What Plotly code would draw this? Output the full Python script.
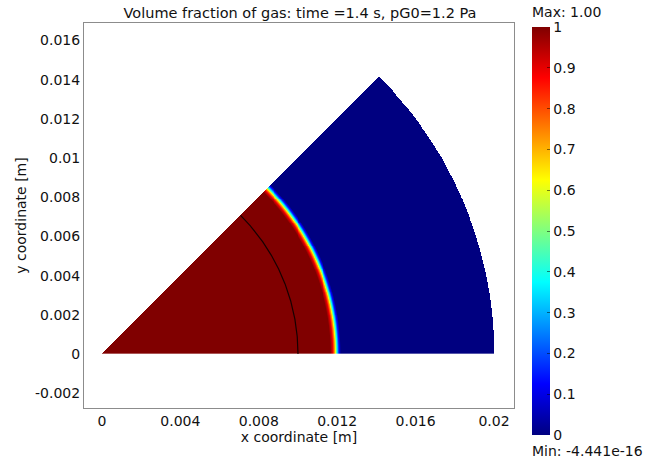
import numpy as np
import plotly.graph_objects as go

# ---- data ----
R_DOMAIN = 0.02          # outer radius of sector [m]
SECTOR_ANGLE_DEG = 45.0  # sector opening angle
INNER_ARC_R = 0.01       # internal boundary arc radius [m]
# radial profile of gas volume fraction
profile_r = [0.0, 0.01165, 0.01177, 0.01188, 0.01198, 0.01208, 0.01218, 0.02]
profile_alpha = [1.0, 1.0, 0.9, 0.7, 0.4, 0.15, 0.0, 0.0]

x_ticks = [0, 0.004, 0.008, 0.012, 0.016, 0.02]
x_ticklabels = ["0", "0.004", "0.008", "0.012", "0.016", "0.02"]
y_ticks = [-0.002, 0, 0.002, 0.004, 0.006, 0.008, 0.01, 0.012, 0.014, 0.016]
y_ticklabels = ["-0.002", "0", "0.002", "0.004", "0.006", "0.008", "0.01", "0.012", "0.014", "0.016"]
cb_ticks = [0, 0.1, 0.2, 0.3, 0.4, 0.5, 0.6, 0.7, 0.8, 0.9, 1]
cb_ticklabels = ["0", "0.1", "0.2", "0.3", "0.4", "0.5", "0.6", "0.7", "0.8", "0.9", "1"]
title_text = "Volume fraction of gas: time =1.4 s, pG0=1.2 Pa"
max_text = "Max: 1.00"
min_text = "Min: -4.441e-16"

# ---- field on a grid ----
d = 2.5e-5
ymax = R_DOMAIN * np.sin(np.radians(SECTOR_ANGLE_DEG))
xs = np.arange(d / 2, R_DOMAIN, d)
ys = np.arange(d / 2, ymax, d)
X, Y = np.meshgrid(xs, ys)
R = np.hypot(X, Y)
TH = np.degrees(np.arctan2(Y, X))
Z = np.interp(R, profile_r, profile_alpha)
Z[(R > R_DOMAIN) | (TH > SECTOR_ANGLE_DEG)] = np.nan
Z = Z.astype(np.float32)

jet = [
    [0.0, "rgb(0,0,128)"],
    [0.125, "rgb(0,0,255)"],
    [0.375, "rgb(0,255,255)"],
    [0.625, "rgb(255,255,0)"],
    [0.875, "rgb(255,0,0)"],
    [1.0, "rgb(128,0,0)"],
]

FONT = "DejaVu Sans"
FS = 14
TXT = "#111"

fig = go.Figure()
fig.add_trace(go.Heatmap(
    x=xs, y=ys, z=Z, zmin=0, zmax=1, colorscale=jet,
    hoverongaps=False,
    colorbar=dict(
        x=(532 - 84) / 430, xanchor="left",
        y=(408 - 27) / 385, yanchor="top",
        len=408, lenmode="pixels",
        thickness=18, thicknessmode="pixels",
        outlinewidth=0, xpad=0, ypad=0,
        tickvals=cb_ticks, ticktext=cb_ticklabels,
        ticks="inside", ticklen=3, tickcolor="rgba(0,0,0,0.5)",
        tickfont=dict(family=FONT, size=FS, color=TXT),
    ),
))

# internal boundary arc
th = np.radians(np.linspace(0, SECTOR_ANGLE_DEG, 200))
fig.add_trace(go.Scatter(
    x=INNER_ARC_R * np.cos(th), y=INNER_ARC_R * np.sin(th),
    mode="lines", line=dict(color="rgba(10,0,0,0.9)", width=1.2),
    hoverinfo="skip", showlegend=False,
))

x0_px, y0_px, scale = 102, 354, 19600.0
fig.update_xaxes(
    range=[(84 - x0_px) / scale, (514 - x0_px) / scale],
    tickvals=x_ticks, ticktext=x_ticklabels,
    showgrid=False, zeroline=False, ticks="",
    showline=True, mirror=True, linecolor="#8c8c8c", linewidth=1,
    tickfont=dict(family=FONT, size=FS, color=TXT),
    title=dict(text="x coordinate [m]", font=dict(family=FONT, size=FS, color=TXT), standoff=3),
)
fig.update_yaxes(
    range=[(y0_px - 408) / scale, (y0_px - 23) / scale],
    tickvals=y_ticks, ticktext=y_ticklabels,
    showgrid=False, zeroline=False, ticks="",
    showline=True, mirror=True, linecolor="#8c8c8c", linewidth=1,
    tickfont=dict(family=FONT, size=FS, color=TXT),
    title=dict(text="y coordinate [m]", font=dict(family=FONT, size=FS, color=TXT), standoff=5),
)

fig.update_layout(
    width=671, height=460,
    margin=dict(l=84, r=157, t=23, b=52),
    paper_bgcolor="white", plot_bgcolor="white",
    showlegend=False,
    title=dict(text=title_text, x=300 / 671, xanchor="center", y=1 - 13 / 460, yanchor="middle",
               font=dict(family=FONT, size=14.5, color=TXT)),
    annotations=[
        dict(text=max_text, xref="paper", yref="paper", x=(530 - 84) / 430, y=(408 - 12) / 385,
             xanchor="left", yanchor="middle", showarrow=False,
             font=dict(family=FONT, size=FS, color=TXT)),
        dict(text=min_text, xref="paper", yref="paper", x=(530 - 84) / 430, y=(408 - 451) / 385,
             xanchor="left", yanchor="middle", showarrow=False,
             font=dict(family=FONT, size=FS, color=TXT)),
    ],
)

fig.write_html("out.html")
